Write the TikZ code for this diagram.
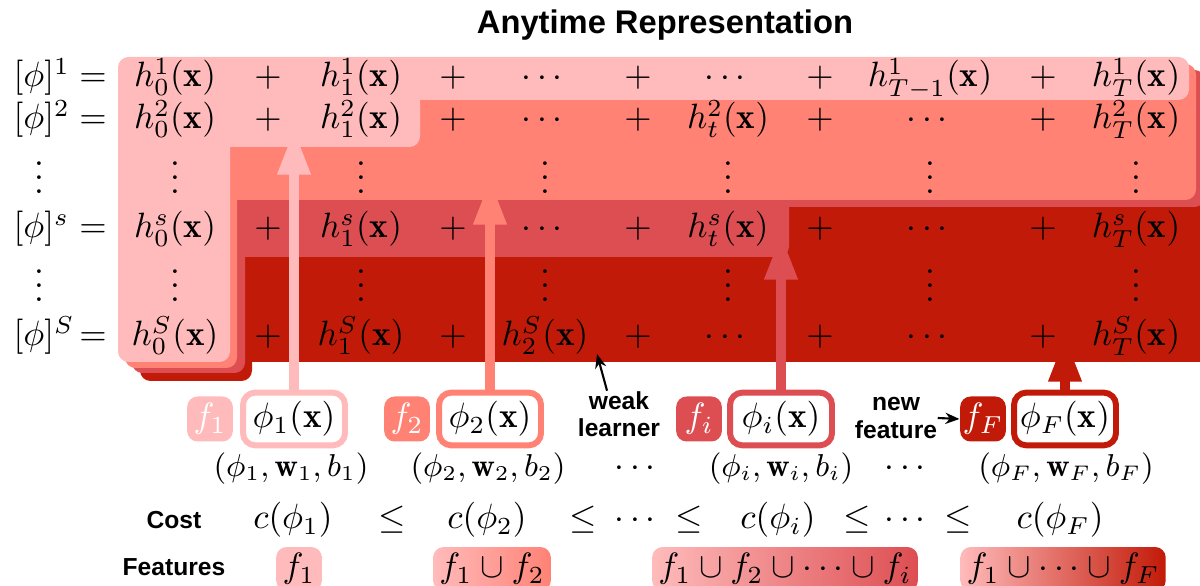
\documentclass[tikz,border=0pt]{standalone}
\usepackage{amsmath,amssymb}
\usepackage{fontspec}
\setsansfont{Liberation Sans}
\usetikzlibrary{arrows.meta}

\definecolor{pinkf}{RGB}{255,187,187}
\definecolor{salmonf}{RGB}{255,130,117}
\definecolor{redf}{RGB}{221,78,82}
\definecolor{darkf}{RGB}{194,26,8}

\tikzset{
  cell/.style={anchor=base,inner sep=0pt},
  lhs/.style={anchor=base west,inner sep=0pt},
  tuple/.style={cell,font=\fontsize{9.2}{11}\selectfont},
  lbl/.style={font=\sffamily\bfseries\fontsize{7}{7.7}\selectfont,align=center,inner sep=0pt},
  fsmall/.style={fill=#1,text=white,rounded corners=3pt,minimum width=13pt,minimum height=12.8pt,inner sep=0pt},
  phibox/.style={draw=#1,line width=1.7pt,fill=white,rounded corners=3.5pt,minimum width=29pt,minimum height=15pt,inner sep=0pt},
  featarrow/.style={draw=#1,line width=2.85pt,-{Triangle[width=8.8pt,length=13pt]}},
  ptr/.style={-{Stealth[length=4pt,width=3.2pt]},line width=0.6pt},
  fset/.style={left color=pinkf,right color=#1,rounded corners=3pt,minimum height=12.5pt,inner xsep=1.8pt,inner ysep=0pt}
}

\begin{document}
\begin{tikzpicture}[x=0.01cm,y=-0.01cm]
\useasboundingbox (0,0) rectangle (1200,586);

% Title
\node[font=\sffamily\bfseries\fontsize{9.3}{11}\selectfont] (title) at (665,25) {Anytime Representation};

% Layers, back to front
\fill[darkf,rounded corners=3pt] (140,76) -- (1212,76) -- (1212,362) [sharp corners] -- (252,362) [rounded corners=3pt] -- (252,381) -- (140,381) -- cycle;
\fill[redf,rounded corners=3pt] (132,70) -- (1205,70) -- (1205,207) [sharp corners] -- (789,207) [rounded corners=3pt] -- (789,257) [sharp corners] -- (245,257) [rounded corners=3pt] -- (245,373) -- (132,373) -- cycle;
\fill[salmonf,rounded corners=3pt] (125,64) -- (1196,64) -- (1196,200) [sharp corners] -- (237,200) [rounded corners=3pt] -- (237,368) -- (125,368) -- cycle;
\fill[pinkf,rounded corners=3pt] (118,57) -- (1189,57) -- (1189,100) [sharp corners] -- (420,100) [rounded corners=3pt] -- (420,147) [sharp corners] -- (230,147) [rounded corners=3pt] -- (230,362) -- (118,362) -- cycle;

% Weak learners and features
\node[fsmall=pinkf] (f1) at (210,419) {$f_1$};
\node[phibox=pinkf] (phi1) at (294,419) {$\phi_1(\mathbf{x})$};
\node[fsmall=salmonf] (f2) at (407,419) {$f_2$};
\node[phibox=salmonf] (phi2) at (490,419) {$\phi_2(\mathbf{x})$};
\node[fsmall=redf] (fi) at (699,419) {$f_i$};
\node[phibox=redf] (phii) at (781,419) {$\phi_i(\mathbf{x})$};
\node[fsmall=darkf] (fF) at (983,419) {$f_F$};
\node[phibox=darkf] (phiF) at (1065,419) {$\phi_F(\mathbf{x})$};

\coordinate (tip1) at (294,129);
\coordinate (tip2) at (490,179);
\coordinate (tipi) at (781,234);
\coordinate (tipF) at (1065,336);
\draw[featarrow=pinkf] (phi1.north) -- (tip1);
\draw[featarrow=salmonf] (phi2.north) -- (tip2);
\draw[featarrow=redf] (phii.north) -- (tipi);
\draw[featarrow=darkf] (phiF.north) -- (tipF);

\node[lbl] (weak) at (619,414) {weak\\learner};
\coordinate (wtip) at (597,354);
\draw[ptr] ([xshift=-3.4pt]weak.north) -- (wtip);
\node[lbl] (newf) at (896,418) {new\\feature};
\draw[ptr] (newf.east) -- (fF.west);

% Row 1
\node[lhs] (l1) at (13,87) {$[\phi]^1$};
\node[cell] (e1) at (93,87) {$=$};
\node[cell] (r1c0) at (175,87) {$h_0^1(\mathbf{x})$};
\node[cell] (r1c1) at (268,87) {$+$};
\node[cell] (r1c2) at (361,87) {$h_1^1(\mathbf{x})$};
\node[cell] (r1c3) at (453,87) {$+$};
\node[cell] (r1c4) at (545,87) {$\cdots$};
\node[cell] (r1c5) at (638,87) {$+$};
\node[cell] (r1c6) at (728,87) {$\cdots$};
\node[cell] (r1c7) at (820,87) {$+$};
\node[cell] (r1c8) at (930,87) {$h_{T-1}^1(\mathbf{x})$};
\node[cell] (r1c9) at (1043,87) {$+$};
\node[cell] (r1c10) at (1136,87) {$h_T^1(\mathbf{x})$};

% Row 2
\node[lhs] (l2) at (13,129) {$[\phi]^2$};
\node[cell] (e2) at (93,129) {$=$};
\node[cell] (r2c0) at (175,129) {$h_0^2(\mathbf{x})$};
\node[cell] (r2c1) at (268,129) {$+$};
\node[cell] (r2c2) at (361,129) {$h_1^2(\mathbf{x})$};
\node[cell] (r2c3) at (453,129) {$+$};
\node[cell] (r2c4) at (545,129) {$\cdots$};
\node[cell] (r2c5) at (638,129) {$+$};
\node[cell] (r2c6) at (728,129) {$h_t^2(\mathbf{x})$};
\node[cell] (r2c7) at (820,129) {$+$};
\node[cell] (r2c8) at (930,129) {$\cdots$};
\node[cell] (r2c9) at (1043,129) {$+$};
\node[cell] (r2c10) at (1136,129) {$h_T^2(\mathbf{x})$};

% Dots
\node[cell] (d1l) at (39,194) {$\vdots$};
\node[cell] (d1c0) at (175,194) {$\vdots$};
\node[cell] (d1c2) at (361,194) {$\vdots$};
\node[cell] (d1c4) at (545,194) {$\vdots$};
\node[cell] (d1c6) at (728,194) {$\vdots$};
\node[cell] (d1c8) at (930,194) {$\vdots$};
\node[cell] (d1c10) at (1136,194) {$\vdots$};

% Row s
\node[lhs] (ls) at (13,238) {$[\phi]^s$};
\node[cell] (es) at (93,238) {$=$};
\node[cell] (rsc0) at (175,238) {$h_0^s(\mathbf{x})$};
\node[cell] (rsc1) at (268,238) {$+$};
\node[cell] (rsc2) at (361,238) {$h_1^s(\mathbf{x})$};
\node[cell] (rsc3) at (453,238) {$+$};
\node[cell] (rsc4) at (545,238) {$\cdots$};
\node[cell] (rsc5) at (638,238) {$+$};
\node[cell] (rsc6) at (728,238) {$h_t^s(\mathbf{x})$};
\node[cell] (rsc7) at (820,238) {$+$};
\node[cell] (rsc8) at (930,238) {$\cdots$};
\node[cell] (rsc9) at (1043,238) {$+$};
\node[cell] (rsc10) at (1136,238) {$h_T^s(\mathbf{x})$};

% Dots
\node[cell] (d2l) at (39,302) {$\vdots$};
\node[cell] (d2c0) at (175,302) {$\vdots$};
\node[cell] (d2c2) at (361,302) {$\vdots$};
\node[cell] (d2c4) at (545,302) {$\vdots$};
\node[cell] (d2c6) at (728,302) {$\vdots$};
\node[cell] (d2c8) at (930,302) {$\vdots$};
\node[cell] (d2c10) at (1136,302) {$\vdots$};

% Row S
\node[lhs] (lS) at (13,346) {$[\phi]^S$};
\node[cell] (eS) at (93,346) {$=$};
\node[cell] (rSc0) at (175,346) {$h_0^S(\mathbf{x})$};
\node[cell] (rSc1) at (268,346) {$+$};
\node[cell] (rSc2) at (361,346) {$h_1^S(\mathbf{x})$};
\node[cell] (rSc3) at (453,346) {$+$};
\node[cell] (rSc4) at (545,346) {$h_2^S(\mathbf{x})$};
\node[cell] (rSc5) at (638,346) {$+$};
\node[cell] (rSc6) at (728,346) {$\cdots$};
\node[cell] (rSc7) at (820,346) {$+$};
\node[cell] (rSc8) at (930,346) {$\cdots$};
\node[cell] (rSc9) at (1043,346) {$+$};
\node[cell] (rSc10) at (1136,346) {$h_T^S(\mathbf{x})$};

% Parameters
\node[tuple] (t1) at (291,477) {$(\phi_1,\mathbf{w}_1,b_1)$};
\node[tuple] (t2) at (488,477) {$(\phi_2,\mathbf{w}_2,b_2)$};
\node[cell] (t3) at (638,477) {$\cdots$};
\node[tuple] (ti) at (781,477) {$(\phi_i,\mathbf{w}_i,b_i)$};
\node[cell] (t4) at (908,477) {$\cdots$};
\node[tuple] (tF) at (1066,477) {$(\phi_F,\mathbf{w}_F,b_F)$};

% Cost
\node[lbl] (cost) at (174,520) {Cost};
\node[cell] (c1) at (293,529) {$c(\phi_1)$};
\node[cell] (le1) at (392,529) {$\leq$};
\node[cell] (c2) at (487,529) {$c(\phi_2)$};
\node[cell] (le2) at (583,529) {$\leq$};
\node[cell] (cd1) at (638,529) {$\cdots$};
\node[cell] (le3) at (689,529) {$\leq$};
\node[cell] (ci) at (778,529) {$c(\phi_i)$};
\node[cell] (le4) at (857,529) {$\leq$};
\node[cell] (cd2) at (908,529) {$\cdots$};
\node[cell] (le5) at (958,529) {$\leq$};
\node[cell] (cF) at (1060,529) {$c(\phi_F)$};

% Features
\node[lbl] (feat) at (174,567) {Features};
\node[fset=pinkf] (s1) at (299,569) {$f_1$};
\node[fset=salmonf] (s2) at (492,569) {$f_1\cup f_2$};
\node[fset=redf] (si) at (785,569) {$f_1\cup f_2\cup\cdots\cup f_i$};
\node[fset=darkf] (sF) at (1063,569) {$f_1\cup\cdots\cup f_F$};
\end{tikzpicture}
\end{document}
